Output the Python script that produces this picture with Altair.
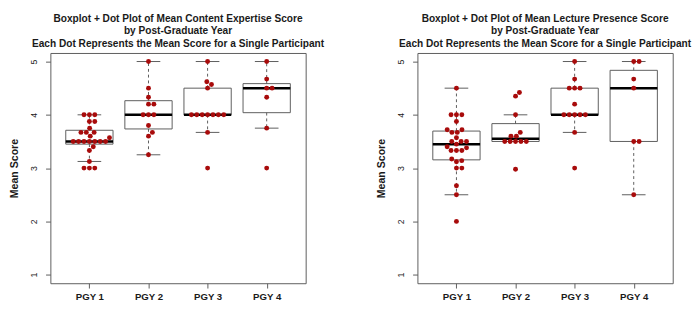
import altair as alt
import numpy as np
import pandas as pd

groups = ["PGY 1", "PGY 2", "PGY 3", "PGY 4"]

content_pgy1 = [3.0, 3.0, 3.0, 3.125, 3.33, 3.4, 3.5, 3.5, 3.5, 3.5, 3.5, 3.5, 3.5,
                3.57, 3.6, 3.67, 3.67, 3.67, 3.75, 3.875, 3.875, 4.0, 4.0, 4.0]
content_pgy2 = [3.25, 3.6, 3.67, 3.8, 4.0, 4.0, 4.0, 4.2, 4.2, 4.33, 4.5, 5.0]
content_pgy3 = [3.0, 3.67, 4.0, 4.0, 4.0, 4.0, 4.0, 4.0, 4.0, 4.5, 4.57, 4.62, 5.0]
content_pgy4 = [3.0, 3.75, 4.33, 4.5, 4.5, 4.67, 5.0]

lecture_pgy1 = [2.0, 2.5, 2.67, 3.0, 3.0, 3.12, 3.14, 3.17, 3.33, 3.33, 3.33, 3.38, 3.4,
                3.45, 3.5, 3.5, 3.5, 3.57, 3.67, 3.67, 3.72, 3.72, 3.875, 4.0, 4.0, 4.0, 4.5]
lecture_pgy2 = [2.98, 3.5, 3.5, 3.5, 3.5, 3.5, 3.6, 3.6, 3.67, 4.0, 4.35, 4.42]
lecture_pgy3 = [3.0, 3.67, 4.0, 4.0, 4.0, 4.0, 4.0, 4.2, 4.5, 4.5, 4.5, 4.67, 5.0]
lecture_pgy4 = [2.5, 3.5, 3.5, 4.5, 4.67, 5.0, 5.0]

y_ticks = [1, 2, 3, 4, 5]

title_content = ["Boxplot + Dot Plot of Mean Content Expertise Score",
                 "by Post-Graduate Year",
                 "Each Dot Represents the Mean Score for a Single Participant"]
title_lecture = ["Boxplot + Dot Plot of Mean Lecture Presence Score",
                 "by Post-Graduate Year",
                 "Each Dot Represents the Mean Score for a Single Participant"]

FONT = "Liberation Sans"
W, H = 265, 239
X_DOM = [0.34, 4.66]
Y_DOM = [0.84, 5.16]
PX_X = W / (X_DOM[1] - X_DOM[0])
PX_Y = H / (Y_DOM[1] - Y_DOM[0])
DOT = 5.6
DOT_COLOR = "#a80b0b"
LINE_COLOR = "#5a5a5a"


def swarm(values):
    order = np.argsort(values, kind="stable")
    placed = []
    offs = [0.0] * len(values)
    for i in order:
        y = values[i] * PX_Y
        cands = [0.0]
        for xp, yp in placed:
            dy = abs(y - yp)
            if dy < DOT:
                dx = float(np.sqrt(DOT ** 2 - dy ** 2))
                cands += [xp + dx, xp - dx]
        cands.sort(key=lambda c: (round(abs(c), 6), -c))
        chosen = 0.0
        for c in cands:
            if all((c - xp) ** 2 + (y - yp) ** 2 >= DOT ** 2 - 1e-6 for xp, yp in placed):
                chosen = c
                break
        placed.append((chosen, y))
        offs[i] = chosen / PX_X
    return offs


def fivenum(v):
    x = np.sort(np.asarray(v, dtype=float))
    n = len(x)
    n4 = np.floor((n + 3) / 2) / 2
    d = np.array([1, n4, (n + 1) / 2, n + 1 - n4, n]) - 1
    return 0.5 * (x[np.floor(d).astype(int)] + x[np.ceil(d).astype(int)])


def build(series):
    dots, stats = [], []
    for gi, vals in enumerate(series, start=1):
        offs = swarm(vals)
        for v, o in zip(vals, offs):
            dots.append({"x": gi + o, "y": v})
        mn, q1, med, q3, mx = fivenum(vals)
        iqr = q3 - q1
        arr = np.asarray(vals)
        lo = arr[arr >= q1 - 1.5 * iqr].min()
        hi = arr[arr <= q3 + 1.5 * iqr].max()
        stats.append({"g": gi, "left": gi - 0.4, "right": gi + 0.4,
                      "cl": gi - 0.2, "cr": gi + 0.2,
                      "q1": q1, "med": med, "q3": q3, "lo": lo, "hi": hi})
    return pd.DataFrame(dots), pd.DataFrame(stats)


def panel(series, title_lines):
    dots, stats = build(series)
    xs = alt.Scale(domain=X_DOM, nice=False, zero=False)
    ys = alt.Scale(domain=Y_DOM, nice=False, zero=False)
    xaxis = alt.Axis(values=[1, 2, 3, 4], labelExpr="'PGY ' + datum.value", title=None,
                     grid=False, domain=False, tickColor=LINE_COLOR, tickSize=5,
                     labelFont=FONT, labelFontWeight="bold", labelFontSize=10,
                     labelColor="#1a1a1a", labelPadding=4)
    yaxis = alt.Axis(values=y_ticks, format="d", title="Mean Score", grid=False, domain=False,
                     tickColor=LINE_COLOR, tickSize=5, labelAngle=270, labelAlign="center",
                     labelBaseline="middle", labelFont=FONT, labelFontSize=9,
                     labelColor="#1a1a1a", labelPadding=12, titleFont=FONT,
                     titleFontSize=11, titleFontWeight="bold", titleColor="#1a1a1a",
                     titlePadding=11)
    base = alt.Chart(stats)
    box = base.mark_rect(fill="white", stroke=LINE_COLOR, strokeWidth=1).encode(
        x=alt.X("left:Q", scale=xs, axis=xaxis), x2="right:Q",
        y=alt.Y("q1:Q", scale=ys, axis=yaxis), y2="q3:Q")
    w_up = base.mark_rule(color=LINE_COLOR, strokeDash=[3, 3], strokeWidth=1).encode(
        x="g:Q", y="q3:Q", y2="hi:Q")
    w_dn = base.mark_rule(color=LINE_COLOR, strokeDash=[3, 3], strokeWidth=1).encode(
        x="g:Q", y="q1:Q", y2="lo:Q")
    cap_up = base.mark_rule(color=LINE_COLOR, strokeWidth=1).encode(
        x="cl:Q", x2="cr:Q", y="hi:Q")
    cap_dn = base.mark_rule(color=LINE_COLOR, strokeWidth=1).encode(
        x="cl:Q", x2="cr:Q", y="lo:Q")
    med = base.mark_rule(color="black", strokeWidth=2.6).encode(
        x="left:Q", x2="right:Q", y="med:Q")
    pts = alt.Chart(dots).mark_circle(color=DOT_COLOR, opacity=1, size=26).encode(
        x="x:Q", y="y:Q")
    return alt.layer(box, w_up, w_dn, cap_up, cap_dn, med, pts).properties(
        width=W, height=H,
        title=alt.TitleParams(text=title_lines, font=FONT, fontSize=10.5, fontWeight="bold",
                              color="#1a1a1a", anchor="middle", lineHeight=13, offset=4))


left = panel([content_pgy1, content_pgy2, content_pgy3, content_pgy4], title_content)
right = panel([lecture_pgy1, lecture_pgy2, lecture_pgy3, lecture_pgy4], title_lecture)

chart = alt.hconcat(left, right, spacing=52).properties(
    padding={"left": 0, "top": 0, "right": 0, "bottom": 0}
).configure_view(stroke=LINE_COLOR, strokeWidth=1)

chart.save("out.html", embed_options={"renderer": "svg", "actions": False})
